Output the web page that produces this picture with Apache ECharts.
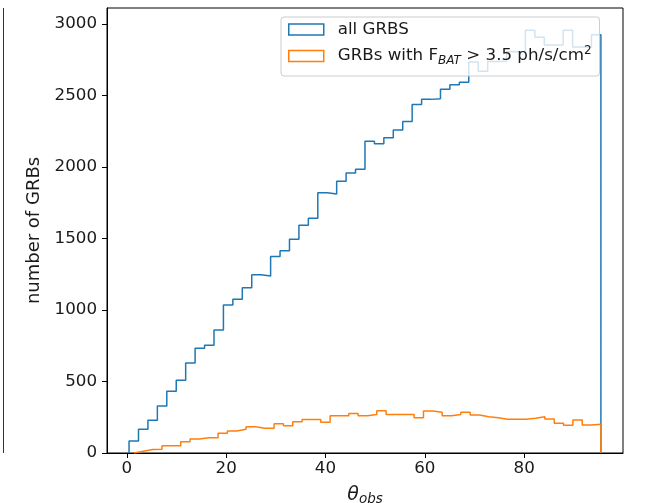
<!DOCTYPE html>
<html>
<head>
<meta charset="utf-8">
<script src="https://cdn.jsdelivr.net/npm/echarts@6/dist/echarts.min.js"></script>
<style>
html,body{margin:0;padding:0;background:#fff;}
#chart{width:651px;height:503px;}
</style>
</head>
<body>
<div id="chart"></div>
<script>
// ---- data ----
const seriesNames = ['all GRBS', 'GRBs with F_BAT > 3.5 ph/s/cm2'];
const allBinStart = 0.45;
const allBinWidth = 1.9;
const allCounts = [84, 166, 229, 329, 431, 508, 629, 732, 753, 860,
  1035, 1075, 1155, 1247, 1238, 1375, 1415, 1494, 1592, 1641,
  1820, 1811, 1900, 1958, 1984, 2180, 2163, 2205, 2259, 2319,
  2438, 2473, 2478, 2543, 2575, 2593, 2735, 2670, 2738, 2740,
  2806, 2806, 2956, 2908, 2853, 2853, 2956, 2840, 2840, 2925];
const brightBinStart = 1.45;
const brightBinWidth = 1.88;
const brightCounts = [12, 24, 26, 51, 51, 79, 98, 107, 107, 138,
  154, 166, 184, 173, 173, 205, 191, 219, 235, 235,
  215, 261, 261, 277, 261, 270, 296, 270, 270, 270,
  247, 294, 285, 261, 270, 285, 266, 254, 247, 236,
  236, 236, 243, 254, 238, 208, 194, 231, 196, 201];
const xTicks = [0, 20, 40, 60, 80];
const yTicks = [0, 500, 1000, 1500, 2000, 2500, 3000];

// build step outline points (left edge, count) for a histogram
function stepPoints(start, width, counts) {
  const pts = [[start, 0]];
  counts.forEach((c, i) => pts.push([start + i * width, c]));
  const end = start + counts.length * width;
  pts.push([end, counts[counts.length - 1]]);
  pts.push([end, 0]);
  return pts;
}

const FONT = 'DejaVu Sans';
const chart = echarts.init(document.getElementById('chart'), null, {renderer: 'canvas'});
chart.setOption({
  animation: false,
  backgroundColor: '#ffffff',
  grid: {left: 107, right: 28, top: 8, bottom: 50, show: true, borderColor: '#000', borderWidth: 1,
    backgroundColor: 'transparent', containLabel: false, outerBoundsMode: 'none'},
  graphic: [{
    type: 'line', shape: {x1: 3.5, y1: 8, x2: 3.5, y2: 453},
    style: {stroke: '#333', lineWidth: 1}, silent: true
  }],
  legend: {
    orient: 'vertical', left: 281, top: 17,
    padding: [4, 8, 9, 7], itemGap: 7,
    itemWidth: 35, itemHeight: 11,
    backgroundColor: 'rgba(255,255,255,0.8)', borderColor: '#cccccc', borderWidth: 1, borderRadius: 3,
    data: [
      {name: seriesNames[0], icon: 'rect', itemStyle: {color: 'rgba(255,255,255,0)', borderColor: '#1f77b4', borderWidth: 1.5}},
      {name: seriesNames[1], icon: 'rect', itemStyle: {color: 'rgba(255,255,255,0)', borderColor: '#ff7f0e', borderWidth: 1.5}}
    ],
    formatter: function (name) {
      if (name === seriesNames[0]) return '{n|all GRBS}';
      return '{n|GRBs with F}{sub|BAT}{n| > 3.5 ph/s/cm}{sup|2}';
    },
    textStyle: {
      padding: [0, 0, 0, 9],
      rich: {
        n: {fontFamily: FONT, fontSize: 16.7, color: '#1a1a1a', lineHeight: 22},
        sub: {fontFamily: FONT, fontSize: 12, fontStyle: 'italic', color: '#1a1a1a', lineHeight: 12, verticalAlign: 'bottom'},
        sup: {fontFamily: FONT, fontSize: 12, color: '#1a1a1a', lineHeight: 12, verticalAlign: 'top'}
      }
    }
  },
  xAxis: {
    type: 'value', min: -3.99, max: 99.9,
    splitLine: {show: false},
    axisLine: {show: true, onZero: false, lineStyle: {color: '#000', width: 1}},
    axisTick: {show: true, length: 5, lineStyle: {color: '#000'}, customValues: xTicks},
    axisLabel: {fontFamily: FONT, fontSize: 16.7, color: '#1a1a1a', margin: 7, customValues: xTicks,
      formatter: function (v) { return String(v); }},
    name: '{t|θ}{s|obs}', nameLocation: 'middle', nameGap: 31,
    nameTextStyle: {rich: {
      t: {fontFamily: FONT, fontSize: 19, fontStyle: 'italic', color: '#1a1a1a', lineHeight: 22},
      s: {fontFamily: FONT, fontSize: 13.5, fontStyle: 'italic', color: '#1a1a1a', lineHeight: 14, verticalAlign: 'bottom'}
    }}
  },
  yAxis: {
    type: 'value', min: 0, max: 3112,
    splitLine: {show: false},
    axisLine: {show: true, onZero: false, lineStyle: {color: '#000', width: 1}},
    axisTick: {show: true, length: 5, lineStyle: {color: '#000'}, customValues: yTicks},
    axisLabel: {fontFamily: FONT, fontSize: 16.7, color: '#1a1a1a', margin: 10, customValues: yTicks,
      formatter: function (v) { return String(v); }},
    name: 'number of GRBs', nameLocation: 'middle', nameGap: 55,
    nameTextStyle: {fontFamily: FONT, fontSize: 18, color: '#1a1a1a'}
  },
  series: [
    {
      name: seriesNames[0], type: 'line', step: 'end', symbol: 'none',
      data: stepPoints(allBinStart, allBinWidth, allCounts),
      lineStyle: {color: '#1f77b4', width: 1.5}, itemStyle: {color: '#1f77b4'}
    },
    {
      name: seriesNames[1], type: 'line', step: 'end', symbol: 'none',
      data: stepPoints(brightBinStart, brightBinWidth, brightCounts),
      lineStyle: {color: '#ff7f0e', width: 1.5}, itemStyle: {color: '#ff7f0e'}
    }
  ]
});
</script>
</body>
</html>
